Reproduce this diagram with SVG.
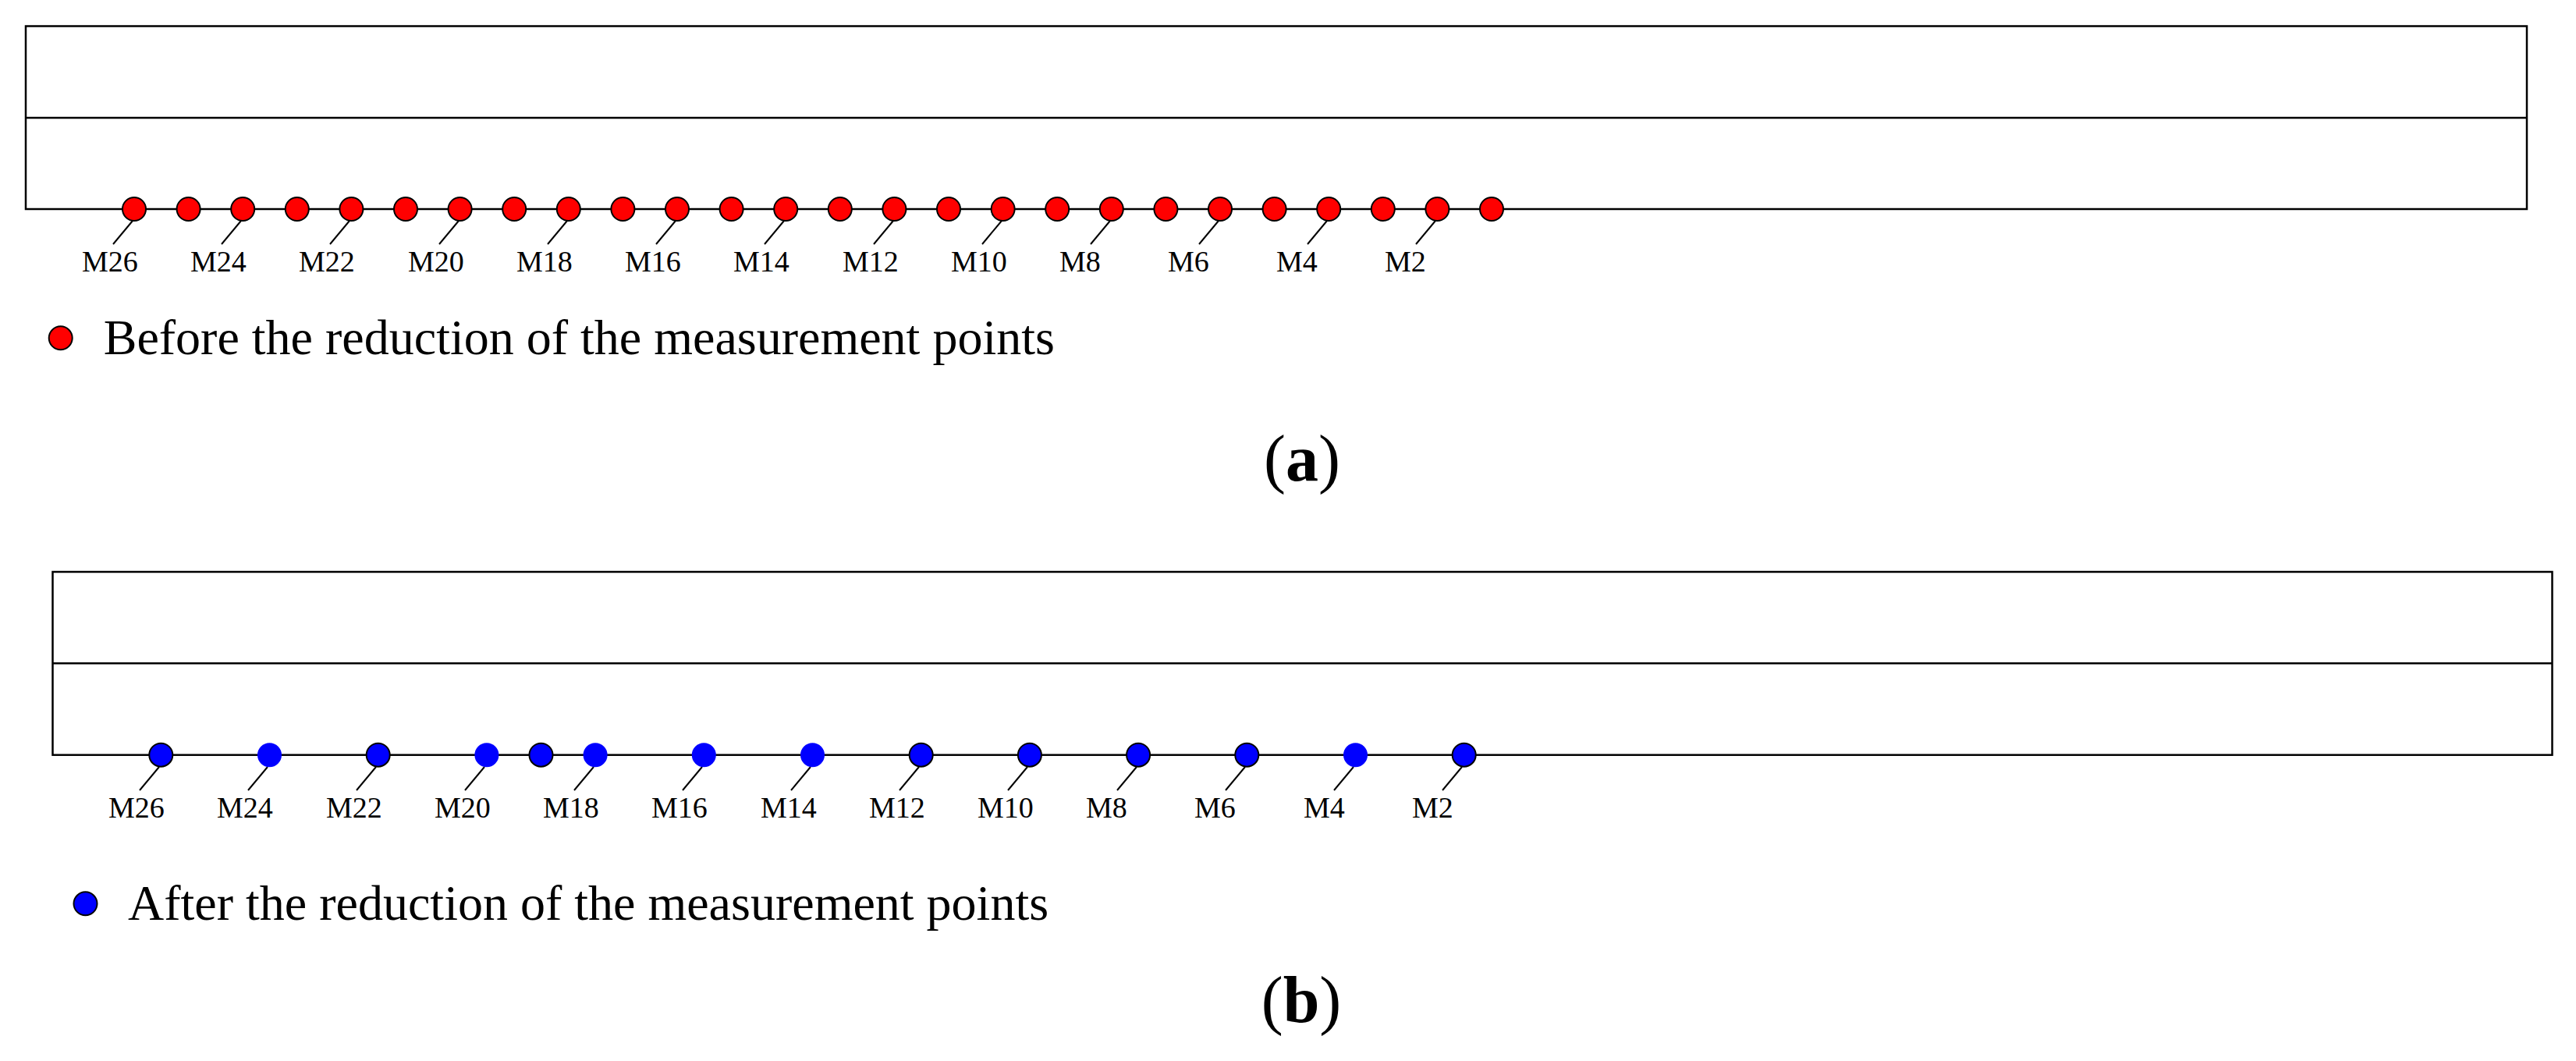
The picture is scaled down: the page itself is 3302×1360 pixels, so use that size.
<svg xmlns="http://www.w3.org/2000/svg" width="3302" height="1360" viewBox="0 0 3302 1360">
<style>
.frame{fill:none;stroke:#000;stroke-width:2.5}
.mid{stroke:#000;stroke-width:2.5}
.lead{stroke:#000;stroke-width:2}
.red{fill:#ff0000;stroke:#000;stroke-width:2}
.blue{fill:#0000ff;stroke:#000;stroke-width:2}
.blueno{fill:#0000ff;stroke:none}
.lbl{font-family:"Liberation Serif","Times New Roman",serif;font-size:38px;fill:#000}
.leg{font-family:"Liberation Serif","Times New Roman",serif;font-size:64px;fill:#000}
.cap{font-family:"Liberation Serif","Times New Roman",serif;font-size:84px;fill:#000}
</style>
<rect width="3302" height="1360" fill="#fff"/>
<g id="panel-a">
<rect class="frame" x="33" y="33.5" width="3206" height="234.5"/>
<line class="mid" x1="33" y1="151" x2="3239" y2="151"/>
</g>
<g id="panel-b">
<rect class="frame" x="67.5" y="733" width="3204" height="234.7"/>
<line class="mid" x1="67.5" y1="850.3" x2="3271.5" y2="850.3"/>
</g>
<g id="connectors">
<line class="lead" x1="170" y1="283" x2="145" y2="313"/>
<line class="lead" x1="309" y1="283" x2="284" y2="313"/>
<line class="lead" x1="448" y1="283" x2="423" y2="313"/>
<line class="lead" x1="588" y1="283" x2="563" y2="313"/>
<line class="lead" x1="727" y1="283" x2="702" y2="313"/>
<line class="lead" x1="866" y1="283" x2="841" y2="313"/>
<line class="lead" x1="1005" y1="283" x2="980" y2="313"/>
<line class="lead" x1="1145" y1="283" x2="1120" y2="313"/>
<line class="lead" x1="1284" y1="283" x2="1259" y2="313"/>
<line class="lead" x1="1423" y1="283" x2="1398" y2="313"/>
<line class="lead" x1="1562" y1="283" x2="1537" y2="313"/>
<line class="lead" x1="1701" y1="283" x2="1676" y2="313"/>
<line class="lead" x1="1840" y1="283" x2="1815" y2="313"/>
<line class="lead" x1="204" y1="983" x2="179" y2="1013"/>
<line class="lead" x1="343" y1="983" x2="318" y2="1013"/>
<line class="lead" x1="482" y1="983" x2="457" y2="1013"/>
<line class="lead" x1="621" y1="983" x2="596" y2="1013"/>
<line class="lead" x1="761" y1="983" x2="736" y2="1013"/>
<line class="lead" x1="900" y1="983" x2="875" y2="1013"/>
<line class="lead" x1="1039" y1="983" x2="1014" y2="1013"/>
<line class="lead" x1="1178" y1="983" x2="1153" y2="1013"/>
<line class="lead" x1="1317" y1="983" x2="1292" y2="1013"/>
<line class="lead" x1="1457" y1="983" x2="1432" y2="1013"/>
<line class="lead" x1="1596" y1="983" x2="1571" y2="1013"/>
<line class="lead" x1="1735" y1="983" x2="1710" y2="1013"/>
<line class="lead" x1="1874" y1="983" x2="1849" y2="1013"/>
</g>
<g id="points-a">
<circle class="red" cx="172" cy="268" r="15"/>
<circle class="red" cx="241.6" cy="268" r="15"/>
<circle class="red" cx="311.2" cy="268" r="15"/>
<circle class="red" cx="380.8" cy="268" r="15"/>
<circle class="red" cx="450.4" cy="268" r="15"/>
<circle class="red" cx="520" cy="268" r="15"/>
<circle class="red" cx="589.6" cy="268" r="15"/>
<circle class="red" cx="659.2" cy="268" r="15"/>
<circle class="red" cx="728.8" cy="268" r="15"/>
<circle class="red" cx="798.4" cy="268" r="15"/>
<circle class="red" cx="868" cy="268" r="15"/>
<circle class="red" cx="937.6" cy="268" r="15"/>
<circle class="red" cx="1007.2" cy="268" r="15"/>
<circle class="red" cx="1076.8" cy="268" r="15"/>
<circle class="red" cx="1146.4" cy="268" r="15"/>
<circle class="red" cx="1216" cy="268" r="15"/>
<circle class="red" cx="1285.6" cy="268" r="15"/>
<circle class="red" cx="1355.2" cy="268" r="15"/>
<circle class="red" cx="1424.8" cy="268" r="15"/>
<circle class="red" cx="1494.4" cy="268" r="15"/>
<circle class="red" cx="1564" cy="268" r="15"/>
<circle class="red" cx="1633.6" cy="268" r="15"/>
<circle class="red" cx="1703.2" cy="268" r="15"/>
<circle class="red" cx="1772.8" cy="268" r="15"/>
<circle class="red" cx="1842.4" cy="268" r="15"/>
<circle class="red" cx="1912" cy="268" r="15"/>
</g>
<g id="labels-a" class="lbl">
<text x="105" y="348">M26</text>
<text x="244" y="348">M24</text>
<text x="383" y="348">M22</text>
<text x="523" y="348">M20</text>
<text x="662" y="348">M18</text>
<text x="801" y="348">M16</text>
<text x="940" y="348">M14</text>
<text x="1080" y="348">M12</text>
<text x="1219" y="348">M10</text>
<text x="1358" y="348">M8</text>
<text x="1497" y="348">M6</text>
<text x="1636" y="348">M4</text>
<text x="1775" y="348">M2</text>
</g>
<g id="points-b">
<circle class="blue" cx="206.3" cy="967.7" r="15"/>
<circle class="blueno" cx="345.5" cy="967.7" r="15.5"/>
<circle class="blue" cx="484.7" cy="967.7" r="15"/>
<circle class="blueno" cx="623.9" cy="967.7" r="15.5"/>
<circle class="blue" cx="693.5" cy="967.7" r="15"/>
<circle class="blueno" cx="763.1" cy="967.7" r="15.5"/>
<circle class="blueno" cx="902.3" cy="967.7" r="15.5"/>
<circle class="blueno" cx="1041.5" cy="967.7" r="15.5"/>
<circle class="blue" cx="1180.7" cy="967.7" r="15"/>
<circle class="blue" cx="1319.9" cy="967.7" r="15"/>
<circle class="blue" cx="1459.1" cy="967.7" r="15"/>
<circle class="blue" cx="1598.3" cy="967.7" r="15"/>
<circle class="blueno" cx="1737.5" cy="967.7" r="15.5"/>
<circle class="blue" cx="1876.7" cy="967.7" r="15"/>
</g>
<g id="labels-b" class="lbl">
<text x="139" y="1048">M26</text>
<text x="278" y="1048">M24</text>
<text x="418" y="1048">M22</text>
<text x="557" y="1048">M20</text>
<text x="696" y="1048">M18</text>
<text x="835" y="1048">M16</text>
<text x="975" y="1048">M14</text>
<text x="1114" y="1048">M12</text>
<text x="1253" y="1048">M10</text>
<text x="1392" y="1048">M8</text>
<text x="1531" y="1048">M6</text>
<text x="1671" y="1048">M4</text>
<text x="1810" y="1048">M2</text>
</g>
<g id="legend-a">
<circle class="red" cx="77.7" cy="433.3" r="15"/>
<text class="leg" x="132.7" y="454">Before the reduction of the measurement points</text>
</g>
<g id="legend-b">
<circle class="blue" cx="109.5" cy="1158.3" r="15"/>
<text class="leg" x="164" y="1179">After the reduction of the measurement points</text>
</g>
<g id="captions">
<text class="cap" x="1669" y="616" text-anchor="middle">(<tspan font-weight="bold">a</tspan>)</text>
<text class="cap" x="1668" y="1310" text-anchor="middle">(<tspan font-weight="bold">b</tspan>)</text>
</g>
</svg>
